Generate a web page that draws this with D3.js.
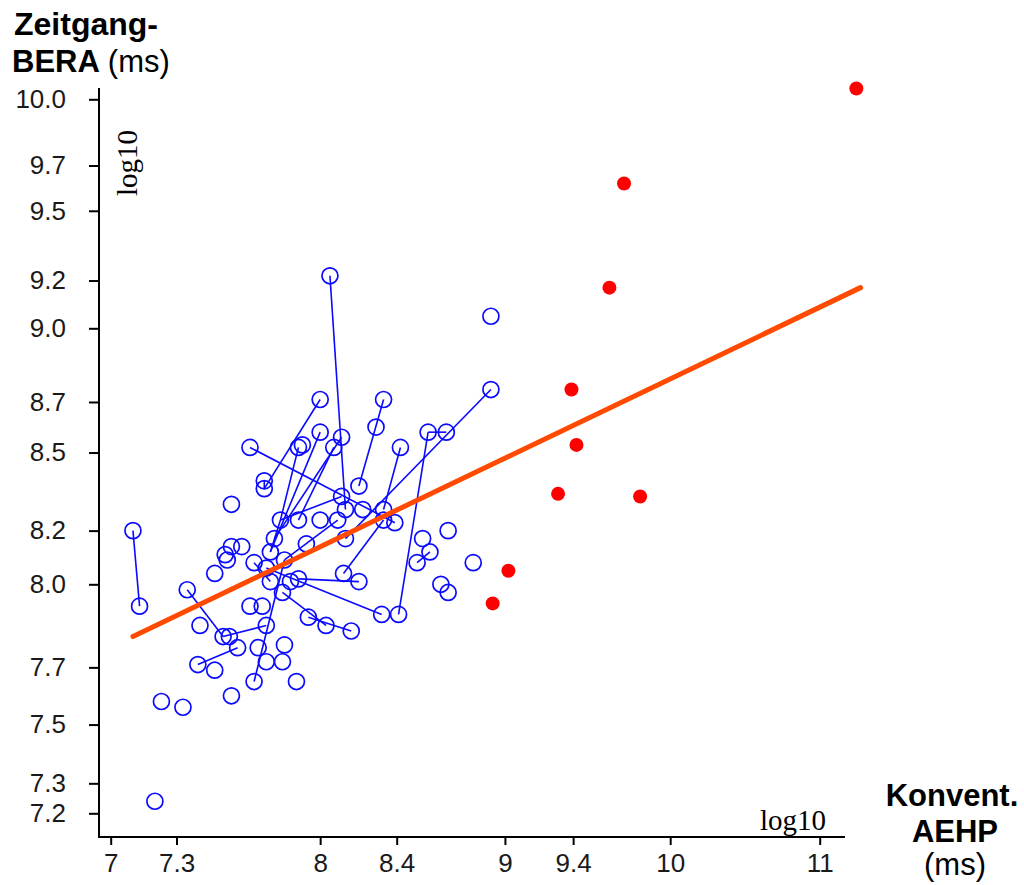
<!DOCTYPE html>
<html>
<head>
<meta charset="utf-8">
<script src="https://cdn.jsdelivr.net/npm/d3@7"></script>
<style>
  html, body { margin: 0; padding: 0; background: #fff; }
  svg { display: block; }
  .tick text { font-family: "Liberation Sans", Arial, sans-serif; font-size: 26px; fill: #1a1a1a; }
</style>
</head>
<body>
<svg id="chart" width="1024" height="885"></svg>
<script>
// Konventionelle AEHP-Latenz (x) gegen Zeitgang-BERA-Latenz (y), beide in ms, log10-Achsen

// Blaue Messpunkte (offene Kreise)
const aehpBlue = [8.05, 8.92, 8.92, 8.00, 8.33, 8.00, 8.11, 8.07, 8.29, 8.57,
                  8.67, 8.42, 7.65, 7.89, 7.91, 7.72, 7.72, 8.20, 7.56, 8.11,
                  8.00, 8.22, 8.33, 7.80, 7.89, 8.39, 7.10, 8.68, 8.09, 7.93,
                  8.13, 8.54, 8.58, 8.51, 8.82, 7.56, 7.61, 7.53, 7.48, 7.54,
                  7.75, 7.73, 7.67, 7.82, 7.89, 8.12, 8.20, 8.64, 8.68, 7.35,
                  7.13, 7.65, 7.71, 8.32, 8.41, 7.41, 7.52, 7.55, 7.59, 7.73,
                  7.69, 7.73, 7.81, 7.82, 7.94, 8.03, 8.16, 7.40, 7.48, 7.67,
                  7.88, 7.56, 7.23, 7.33, 7.20, 7.75, 7.85, 7.81, 7.77, 8.13,
                  8.33];
const beraBlue = [9.22, 9.05, 8.75, 8.71, 8.71, 8.58, 8.56, 8.52, 8.60, 8.58,
                  8.58, 8.52, 8.52, 8.52, 8.53, 8.39, 8.36, 8.37, 8.30, 8.33,
                  8.24, 8.28, 8.28, 8.24, 8.24, 8.23, 8.20, 8.20, 8.24, 8.15,
                  8.17, 8.17, 8.12, 8.08, 8.08, 8.14, 8.14, 8.11, 8.04, 8.09,
                  8.12, 8.06, 8.08, 8.09, 8.02, 8.04, 8.01, 8.00, 7.97, 7.98,
                  7.92, 7.92, 7.92, 7.89, 7.89, 7.85, 7.81, 7.81, 7.77, 7.85,
                  7.77, 7.72, 7.72, 7.78, 7.88, 7.85, 7.83, 7.71, 7.69, 7.65,
                  7.65, 7.60, 7.58, 7.56, 7.24, 8.01, 8.01, 7.97, 8.17, 8.28,
                  8.24];
// Verbindungen zwischen zusammengehörigen Messungen (Indizes in die Arrays oben)
const bluePairs = [[26, 50], [0, 79], [2, 30], [12, 25], [3, 16], [5, 40], [4, 17],
                   [11, 22], [9, 54], [9, 10], [49, 56], [56, 59], [67, 58], [43, 69],
                   [44, 46], [41, 53], [64, 66], [45, 80], [7, 24], [23, 19], [13, 23],
                   [6, 78], [28, 43], [15, 16], [77, 65], [32, 33], [40, 23], [42, 75]];

// Rote Messpunkte (gefüllt)
const aehpRed = [11.26, 9.71, 9.62, 9.39, 9.42, 9.31, 9.81, 9.02, 8.93];
const beraRed = [10.05, 9.62, 9.17, 8.75, 8.53, 8.34, 8.33, 8.05, 7.93];

// Regressionsgerade (Endpunkte)
const regAehp = [7.10, 11.29];
const regBera = [7.81, 9.17];

// Achsenbeschriftungen
const xMajor = [7, 7.3, 8, 8.4, 9, 9.4, 10, 11];
const yMajor = [10.0, 9.7, 9.5, 9.2, 9.0, 8.7, 8.5, 8.2, 8.0, 7.7, 7.5, 7.3, 7.2];
const xMinor = d3.range(70, 101).map(v => v / 10).filter(v => !xMajor.includes(v));
const yMinor = d3.range(72, 101).map(v => v / 10).filter(v => !yMajor.includes(v));

const svg = d3.select("#chart");

const x = d3.scaleLog().domain([7, 11]).range([110.7, 819.7]);
const y = d3.scaleLog().domain([7.2, 10]).range([813.3, 99.3]);

const axisX0 = 99, axisY0 = 837;
const blue = "#0a0aff";

// Achsen
const gx = svg.append("g").attr("transform", `translate(0,${axisY0})`);
gx.call(d3.axisBottom(x).tickValues(xMinor).tickSize(4).tickFormat(""));
gx.call(d3.axisBottom(x).tickValues(xMajor).tickSize(8).tickPadding(9).tickFormat(d => String(d)));
gx.selectAll(".domain").remove();
gx.selectAll(".tick line").attr("stroke", "#000").attr("stroke-width", 2);

const gy = svg.append("g").attr("transform", `translate(${axisX0},0)`);
gy.call(d3.axisLeft(y).tickValues(yMinor).tickSize(4).tickFormat(""));
gy.call(d3.axisLeft(y).tickValues(yMajor).tickSize(10).tickPadding(23).tickFormat(d3.format(".1f")));
gy.selectAll(".domain").remove();
gy.selectAll(".tick line").attr("stroke", "#000").attr("stroke-width", 2);

svg.append("line").attr("x1", axisX0).attr("x2", axisX0).attr("y1", 88).attr("y2", axisY0 + 1)
  .attr("stroke", "#000").attr("stroke-width", 2);
svg.append("line").attr("x1", axisX0).attr("x2", 845).attr("y1", axisY0).attr("y2", axisY0)
  .attr("stroke", "#000").attr("stroke-width", 2);

// Verbindungslinien
svg.append("g").selectAll("line").data(bluePairs).join("line")
  .attr("x1", p => x(aehpBlue[p[0]])).attr("y1", p => y(beraBlue[p[0]]))
  .attr("x2", p => x(aehpBlue[p[1]])).attr("y2", p => y(beraBlue[p[1]]))
  .attr("stroke", blue).attr("stroke-width", 1.6);

// Offene blaue Kreise
svg.append("g").selectAll("circle").data(aehpBlue).join("circle")
  .attr("cx", d => x(d)).attr("cy", (d, i) => y(beraBlue[i])).attr("r", 8)
  .attr("fill", "none").attr("stroke", blue).attr("stroke-width", 1.7);

// Regressionsgerade
svg.append("line")
  .attr("x1", x(regAehp[0])).attr("y1", y(regBera[0]))
  .attr("x2", x(regAehp[1])).attr("y2", y(regBera[1]))
  .attr("stroke", "#ff4a00").attr("stroke-width", 5).attr("stroke-linecap", "round");

// Gefüllte rote Punkte
svg.append("g").selectAll("circle").data(aehpRed).join("circle")
  .attr("cx", d => x(d)).attr("cy", (d, i) => y(beraRed[i])).attr("r", 7)
  .attr("fill", "#ff0000");

// Skalenhinweise
svg.append("text").attr("x", 760).attr("y", 830)
  .attr("font-family", "'Liberation Serif', 'Times New Roman', serif").attr("font-size", 29)
  .text("log10");
svg.append("text").attr("transform", "translate(137,163) rotate(-90)").attr("text-anchor", "middle")
  .attr("font-family", "'Liberation Serif', 'Times New Roman', serif").attr("font-size", 29)
  .text("log10");

// Achsentitel
const sans = "'Liberation Sans', Arial, sans-serif";
svg.append("text").attr("x", 14).attr("y", 35).attr("font-family", sans).attr("font-size", 32)
  .attr("font-weight", "bold").text("Zeitgang-");
const t2 = svg.append("text").attr("x", 12).attr("y", 72).attr("font-family", sans).attr("font-size", 31);
t2.append("tspan").attr("font-weight", "bold").text("BERA");
t2.append("tspan").attr("dx", 8).text("(ms)");

svg.append("text").attr("x", 952).attr("y", 806).attr("text-anchor", "middle").attr("font-family", sans)
  .attr("font-size", 31).attr("font-weight", "bold").text("Konvent.");
svg.append("text").attr("x", 955).attr("y", 842).attr("text-anchor", "middle").attr("font-family", sans)
  .attr("font-size", 31).attr("font-weight", "bold").text("AEHP");
svg.append("text").attr("x", 955).attr("y", 875).attr("text-anchor", "middle").attr("font-family", sans)
  .attr("font-size", 31).text("(ms)");
</script>
</body>
</html>
